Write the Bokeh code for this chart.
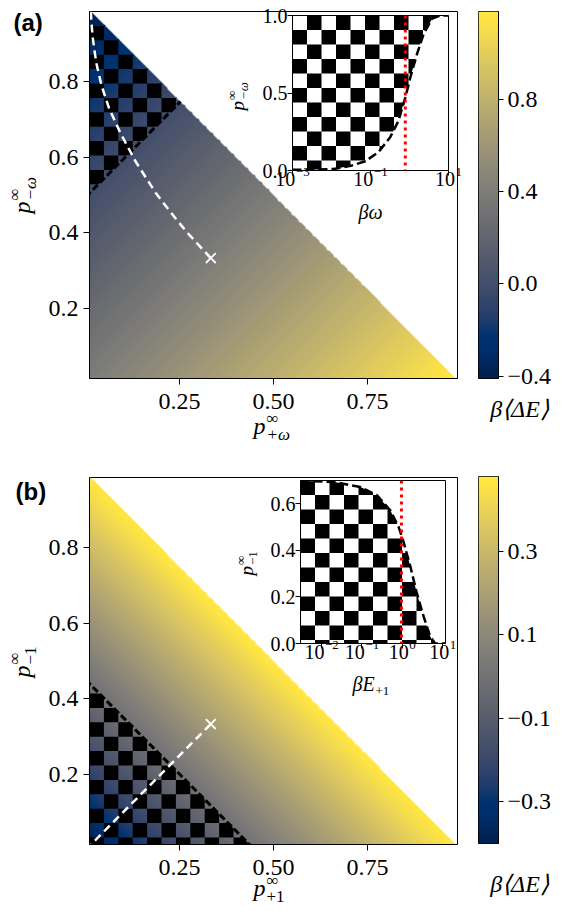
import numpy as np
from bokeh.plotting import figure
from bokeh.models import Range1d, FixedTicker, LinearColorMapper, Label, Span, GridBox
from bokeh.palettes import Cividis256
from bokeh.embed import file_html
from bokeh.resources import INLINE

# ---------------- values ----------------
main_x_window = [0.01, 0.99]
main_y_window = [0.014, 0.986]
main_x_ticks = [0.25, 0.50, 0.75]
main_x_labels = ["0.25", "0.50", "0.75"]
main_y_ticks = [0.2, 0.4, 0.6, 0.8]
main_y_labels = ["0.2", "0.4", "0.6", "0.8"]

# panel (a): colour value against p(+w) - p(-w)
a_diff = [-0.976, -0.495, 0.976]
a_value = [-0.41, 0.0, 1.18]
a_cbar_range = [-0.41, 1.18]
a_cbar_ticks = [-0.4, 0.0, 0.4, 0.8]
a_cbar_labels = ["\u22120.4", "0.0", "0.4", "0.8"]
a_path_x = [0.333, 0.301, 0.269, 0.240, 0.206, 0.186, 0.132, 0.092, 0.062, 0.042, 0.028, 0.018, 0.013]
a_path_y = [0.333, 0.367, 0.402, 0.437, 0.480, 0.506, 0.590, 0.665, 0.730, 0.790, 0.850, 0.920, 0.990]
a_mark_x = [0.333]
a_mark_y = [0.333]

# panel (b): colour value against p(+1) + p(-1)
b_sum = [0.024, 0.45, 1.0]
b_value = [-0.40, 0.0, 0.48]
b_cbar_range = [-0.40, 0.48]
b_cbar_ticks = [-0.3, -0.1, 0.1, 0.3]
b_cbar_labels = ["\u22120.3", "\u22120.1", "0.1", "0.3"]
b_path_x = [0.0, 0.333]
b_path_y = [0.0, 0.333]
b_mark_x = [0.333]
b_mark_y = [0.333]

# inset (a)
ia_x = [0.001, 0.0032, 0.0115, 0.031, 0.074, 0.162, 0.32, 0.52, 0.78, 1.05, 1.55, 2.3, 3.8, 6.2, 10.0]
ia_y = [0.005, 0.005, 0.01, 0.03, 0.06, 0.12, 0.215, 0.32, 0.47, 0.60, 0.75, 0.88, 0.98, 1.0, 1.0]
ia_red = 0.78
ia_x_window = [1e-3, 1e1]
ia_y_window = [0.0, 1.0]
ia_x_ticks = [1e-3, 1e-1, 1e1]
ia_x_exponents = ["\u22123", "\u22121", "1"]
ia_y_ticks = [0.0, 0.5, 1.0]
ia_y_labels = ["0.0", "0.5", "1.0"]

# inset (b)
ib_x = [0.003, 0.02, 0.091, 0.237, 0.50, 0.81, 1.07, 1.58, 2.29, 3.39, 4.9, 6.5, 11.7]
ib_y = [0.698, 0.694, 0.672, 0.636, 0.572, 0.50, 0.436, 0.33, 0.215, 0.114, 0.03, 0.0, 0.0]
ib_red = 0.95
ib_x_window = [0.003, 11.7]
ib_y_window = [0.0, 0.70]
ib_x_ticks = [1e-2, 1e-1, 1e0, 1e1]
ib_x_exponents = ["\u22122", "\u22121", "0", "1"]
ib_y_ticks = [0.0, 0.2, 0.4, 0.6]
ib_y_labels = ["0.0", "0.2", "0.4", "0.6"]

SERIF = "Liberation Serif"

# page geometry of the frames (pixels)
MA = dict(left=89, top=11, w=368, h=367)      # main (a)
MB = dict(left=89, top=477, w=368, h=367)     # main (b)
CA = dict(left=478, top=11, w=20, h=367)      # colour bar (a)
CB = dict(left=478, top=476, w=20, h=367)     # colour bar (b)
IA = dict(left=292, top=15, w=156, h=155)     # inset (a)
IB = dict(left=300, top=480, w=145, h=163)    # inset (b)
CELL = 14.4
TICK_PX = 24
INSET_TICK_PX = 20


def style_axes(p, tick_out=6):
    for ax in list(p.xaxis) + list(p.yaxis):
        ax.axis_line_color = "black"
        ax.major_tick_line_color = "black"
        ax.major_tick_out = tick_out
        ax.major_tick_in = 0
        ax.minor_tick_line_color = None
        ax.major_label_text_font_size = "1px"
        ax.major_label_text_alpha = 0.0
    p.grid.grid_line_color = None
    p.outline_line_color = "black"
    p.outline_line_alpha = 1.0
    p.border_fill_alpha = 0.0
    p.frame_align = False


def blank_labels(axis, ticks):
    axis.major_label_overrides = {t: "" for t in ticks}


def checker(xw, yw, cw, ch, lower, upper, parity, n=24):
    """Black cells of a checker pattern clipped to lower(x) <= y <= upper(x)."""
    ncols = int(np.ceil((xw[1] - xw[0]) / cw))
    nrows = int(np.ceil((yw[1] - yw[0]) / ch))
    xs_all, ys_all = [], []
    for i in range(nrows):
        y1 = yw[1] - i * ch
        y0 = max(yw[1] - (i + 1) * ch, yw[0])
        for j in range(ncols):
            if (i + j) % 2 != parity:
                continue
            x0 = xw[0] + j * cw
            x1 = min(x0 + cw, xw[1])
            t = np.linspace(x0, x1, n)
            lo = np.clip(lower(t), y0, y1)
            hi = np.clip(upper(t), y0, y1)
            hi = np.maximum(hi, lo)
            if np.all(hi - lo < 1e-9):
                continue
            xs_all.append(list(np.concatenate([t, t[::-1]])))
            ys_all.append(list(np.concatenate([hi, lo[::-1]])))
    return xs_all, ys_all


def main_panel(fr, fig_top, field, cbar_range, zero_line, region,
               path_x, path_y, mark_x, mark_y, parity):
    tb = fr["top"] - fig_top
    p = figure(width=fr["left"] + fr["w"] + 13, height=tb + fr["h"] + 60,
               x_range=Range1d(*main_x_window), y_range=Range1d(*main_y_window),
               toolbar_location=None, output_backend="svg",
               min_border_left=fr["left"], min_border_right=13,
               min_border_top=tb, min_border_bottom=60)
    mapper = LinearColorMapper(palette=Cividis256, low=cbar_range[0], high=cbar_range[1],
                               nan_color=(0, 0, 0, 0.0))
    n = 420
    xs = np.linspace(main_x_window[0], main_x_window[1], n)
    ys = np.linspace(main_y_window[0], main_y_window[1], n)
    X, Y = np.meshgrid(xs, ys)
    V = field(X, Y)
    V[X + Y > 1.0] = np.nan
    p.image(image=[V], x=main_x_window[0], y=main_y_window[0],
            dw=main_x_window[1] - main_x_window[0], dh=main_y_window[1] - main_y_window[0],
            color_mapper=mapper)
    cw = CELL * (main_x_window[1] - main_x_window[0]) / fr["w"]
    ch = CELL * (main_y_window[1] - main_y_window[0]) / fr["h"]
    cx, cy = checker(main_x_window, main_y_window, cw, ch, region[0], region[1], parity)
    p.patches(cx, cy, fill_color="black", line_color=None)
    p.line(zero_line[0], zero_line[1], line_color="black", line_width=3, line_dash="7 3")
    p.line(path_x, path_y, line_color="white", line_width=2.5, line_dash="8 5")
    p.scatter(mark_x, mark_y, marker="x", size=14, line_color="white", line_width=1.8)
    p.xaxis.ticker = FixedTicker(ticks=main_x_ticks)
    p.yaxis.ticker = FixedTicker(ticks=main_y_ticks)
    blank_labels(p.xaxis, main_x_ticks)
    blank_labels(p.yaxis, main_y_ticks)
    style_axes(p, tick_out=6)
    p.background_fill_color = "white"
    return p


def cbar_panel(fr, fig_top, cbar_range, ticks):
    tb = fr["top"] - fig_top
    p = figure(width=2 + fr["w"] + 20, height=tb + fr["h"] + 10,
               x_range=Range1d(0, 1), y_range=Range1d(*cbar_range),
               toolbar_location=None, output_backend="svg",
               x_axis_location=None, y_axis_location="right",
               min_border_left=2, min_border_right=20,
               min_border_top=tb, min_border_bottom=10)
    mapper = LinearColorMapper(palette=Cividis256, low=cbar_range[0], high=cbar_range[1])
    grad = np.linspace(cbar_range[0], cbar_range[1], 256).reshape(256, 1)
    p.image(image=[grad], x=0, y=cbar_range[0], dw=1, dh=cbar_range[1] - cbar_range[0],
            color_mapper=mapper)
    p.yaxis.ticker = FixedTicker(ticks=ticks)
    blank_labels(p.yaxis, ticks)
    style_axes(p, tick_out=5)
    return p


def inset_panel(fr, fig_left, fig_top, xw, yw, xticks, yticks, cx, cy, red, parity, below):
    lb, tb = fr["left"] - fig_left, fr["top"] - fig_top
    p = figure(width=lb + fr["w"] + 5, height=tb + fr["h"] + 20,
               x_axis_type="log", x_range=Range1d(*xw), y_range=Range1d(*yw),
               toolbar_location=None, output_backend="svg",
               min_border_left=lb, min_border_right=5, min_border_top=tb, min_border_bottom=20)
    lxw = [np.log10(xw[0]), np.log10(xw[1])]
    cw = 14.5 * (lxw[1] - lxw[0]) / fr["w"]
    ch = 14.5 * (yw[1] - yw[0]) / fr["h"]
    lcx = np.log10(cx)
    curve = lambda t: np.interp(t, lcx, cy)
    if below:
        region = (lambda t: np.full_like(t, -1e9), curve)
    else:
        region = (curve, lambda t: np.full_like(t, 1e9))
    qx, qy = checker(lxw, yw, cw, ch, region[0], region[1], parity, n=30)
    qx = [list(10 ** np.array(v)) for v in qx]
    p.patches(qx, qy, fill_color="black", line_color=None)
    p.add_layout(Span(location=red, dimension="height", line_color="red",
                      line_width=3, line_dash="3 4"))
    p.line(cx, cy, line_color="black", line_width=2.5, line_dash="9 4")
    p.xaxis.ticker = FixedTicker(ticks=xticks)
    p.yaxis.ticker = FixedTicker(ticks=yticks)
    blank_labels(p.xaxis, xticks)
    blank_labels(p.yaxis, yticks)
    style_axes(p, tick_out=5)
    p.background_fill_color = "white"
    return p


# ---- panel (a)
a_zero = float(np.interp(0.0, a_value, a_diff))
pa = main_panel(MA, 0,
                lambda X, Y: np.interp(X - Y, a_diff, a_value), a_cbar_range,
                ([0.0, (1 + a_zero) / 2], [-a_zero, (1 - a_zero) / 2]),
                (lambda t: t - a_zero, lambda t: 1.0 - t),
                a_path_x, a_path_y, a_mark_x, a_mark_y, 1)
# ---- panel (b)
b_zero = float(np.interp(0.0, b_value, b_sum))
pb = main_panel(MB, 450,
                lambda X, Y: np.interp(X + Y, b_sum, b_value), b_cbar_range,
                ([0.0, b_zero], [b_zero, 0.0]),
                (lambda t: np.full_like(t, -1e9), lambda t: b_zero - t),
                b_path_x, b_path_y, b_mark_x, b_mark_y, 1)

ca = cbar_panel(CA, 0, a_cbar_range, a_cbar_ticks)
cb = cbar_panel(CB, 466, b_cbar_range, b_cbar_ticks)

ia = inset_panel(IA, 232, 0, ia_x_window, ia_y_window, ia_x_ticks, ia_y_ticks,
                 ia_x, ia_y, ia_red, 1, below=False)
ib = inset_panel(IB, 240, 465, ib_x_window, ib_y_window, ib_x_ticks, ib_y_ticks,
                 ib_x, ib_y, ib_red, 0, below=True)

# ---- text overlay in page pixel coordinates
ov = figure(width=561, height=911, x_range=Range1d(0, 561), y_range=Range1d(911, 0),
            toolbar_location=None, output_backend="svg",
            x_axis_location=None, y_axis_location=None,
            min_border=0, min_border_left=0, min_border_right=0,
            min_border_top=0, min_border_bottom=0)
ov.outline_line_color = None
ov.background_fill_alpha = 0.0
ov.border_fill_alpha = 0.0
ov.grid.grid_line_color = None
ov.frame_align = False

MID = 0.34   # distance (in em) from the alphabetic baseline to the middle of the em box


def txt(s, x, y, size, style="normal", font=SERIF, align="left", angle=0.0):
    """y (or x for rotated text) is the vertical centre of the em box."""
    ov.add_layout(Label(x=x, y=y, text=s, text_font=font, text_font_size=f"{size}px",
                        text_font_style=style, text_align=align, text_baseline="middle",
                        angle=angle, text_color="black"))


def txt_b(s, x, yb, size, style="normal", font=SERIF, align="left"):
    """Horizontal text placed by its alphabetic baseline yb."""
    txt(s, x, yb - MID * size, size, style, font, align)


def lin_x(fr, w, t):
    return fr["left"] + (t - w[0]) / (w[1] - w[0]) * fr["w"]


def lin_y(fr, w, t):
    return fr["top"] + (w[1] - t) / (w[1] - w[0]) * fr["h"]


def log_x(fr, w, t):
    return fr["left"] + (np.log10(t) - np.log10(w[0])) / (np.log10(w[1]) - np.log10(w[0])) * fr["w"]


# tick labels of the main panels
for fr in (MA, MB):
    for t, s in zip(main_x_ticks, main_x_labels):
        txt(s, lin_x(fr, main_x_window, t), fr["top"] + fr["h"] + 23, TICK_PX, align="center")
    for t, s in zip(main_y_ticks, main_y_labels):
        txt(s, fr["left"] - 11, lin_y(fr, main_y_window, t), TICK_PX, align="right")
# colour bar tick labels
for fr, rng, ticks, labels in ((CA, a_cbar_range, a_cbar_ticks, a_cbar_labels),
                               (CB, b_cbar_range, b_cbar_ticks, b_cbar_labels)):
    for t, s in zip(ticks, labels):
        txt(s, fr["left"] + fr["w"] + 9, lin_y(fr, rng, t), TICK_PX)
# inset tick labels
for fr, xw, yw, xt, xe, yt, yl in ((IA, ia_x_window, ia_y_window, ia_x_ticks, ia_x_exponents, ia_y_ticks, ia_y_labels),
                                   (IB, ib_x_window, ib_y_window, ib_x_ticks, ib_x_exponents, ib_y_ticks, ib_y_labels)):
    base_y = fr["top"] + fr["h"] + 15
    bw = INSET_TICK_PX
    for t, e in zip(xt, xe):
        ew = 13 * (0.5 * (len(e) - 1) + (0.564 if e.startswith("\u2212") else 0.5))
        total = bw + 0.5 + ew
        x0 = log_x(fr, xw, t) - total / 2
        txt_b("10", x0, base_y, INSET_TICK_PX)
        txt_b(e, x0 + bw + 0.5, base_y - 9, 13)
    for t, s in zip(yt, yl):
        txt(s, fr["left"] - 5, lin_y(fr, yw, t), INSET_TICK_PX, align="right")


def hmath(x, yb, sup, sub, S, sub_style="italic"):
    txt_b("p", x, yb, S, "italic")
    xs = x + 0.5 * S + 1
    s2 = round(0.7 * S)
    txt_b(sup, xs, yb - 0.42 * S, s2)
    txt_b(sub, xs, yb + 0.24 * S, s2, sub_style)


def vmath(xb, ys, sup, sub, S, sub_style="italic"):
    """Text read bottom-to-top; xb is the screen x of the baseline, ys the start."""
    r = np.pi / 2
    s2 = round(0.7 * S)
    txt("p", xb - MID * S, ys, S, "italic", angle=r)
    along = 0.5 * S + 1
    txt(sup, xb - 0.42 * S - MID * s2, ys - along, s2, angle=r)
    txt(sub, xb + 0.24 * S - MID * s2, ys - along, s2, sub_style, angle=r)


txt("(a)", 13, 22, 24, "bold", font="Liberation Sans")
txt("(b)", 15, 491, 24, "bold", font="Liberation Sans")
hmath(253, 434, "\u221e", "+\u03c9", 24)
hmath(253, 896, "\u221e", "+1", 24, sub_style="normal")
vmath(30, 213, "\u221e", "\u2212\u03c9", 24)
vmath(30, 677, "\u221e", "\u22121", 24, sub_style="normal")
vmath(243, 110, "\u221e", "\u2212\u03c9", 19)
vmath(252, 575, "\u221e", "\u22121", 19, sub_style="normal")
txt_b("\u03b2\u03c9", 370, 218, 20, "italic", align="center")
txt_b("\u03b2E", 352, 690, 20, "italic")
txt_b("+1", 375, 695, 13)
txt_b("\u03b2\u27e8\u0394E\u27e9", 519, 417, 24, "italic", align="center")
txt_b("\u03b2\u27e8\u0394E\u27e9", 519, 892, 24, "italic", align="center")

# ---- absolute placement: all items share one grid cell, offset by margins
placements = [(pa, 0, 0), (pb, 0, 450), (ca, 476, 0), (cb, 476, 466),
              (ia, 232, 0), (ib, 240, 465), (ov, 0, 0)]
children = []
for fig, left, top in placements:
    fig.margin = (top, 0, 0, left)
    children.append((fig, 0, 0))
grid = GridBox(children=children)

open("out.html", "w").write(file_html(grid, INLINE))
